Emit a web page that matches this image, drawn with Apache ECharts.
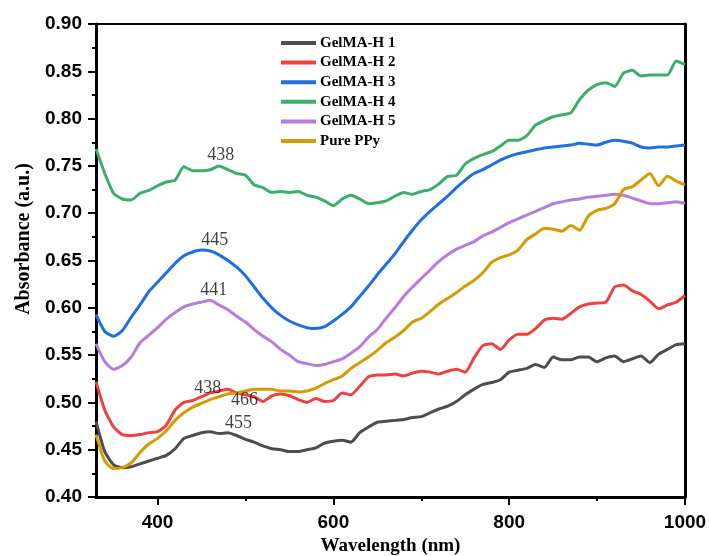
<!DOCTYPE html>
<html>
<head>
<meta charset="utf-8">
<script src="https://cdn.jsdelivr.net/npm/echarts@6/dist/echarts.min.js"></script>
<style>
  html, body { margin: 0; padding: 0; background: #fff; }
  #chart { width: 709px; height: 556px; }
</style>
</head>
<body>
<div id="chart"></div>
<script>
// wavelength grid (nm)
const wavelength = [330, 340, 350, 360, 370, 380, 390, 400, 410, 420, 430, 440, 450, 460, 470, 480, 490, 500,
  510, 520, 530, 540, 550, 560, 570, 580, 590, 600, 610, 620, 630, 640, 650, 660, 670, 680, 690, 700,
  710, 720, 730, 740, 750, 760, 770, 780, 790, 800, 810, 820, 830, 840, 850, 860, 870, 880, 890, 900,
  910, 920, 930, 940, 950, 960, 970, 980, 990, 1000]

const seriesNames = ['GelMA-H 1', 'GelMA-H 2', 'GelMA-H 3', 'GelMA-H 4', 'GelMA-H 5', 'Pure PPy']
const seriesColors = ['#4d4d4d', '#f04141', '#1f6fe0', '#3aae6a', '#b67de0', '#d39c00']

const gelma1 = [0.480, 0.448, 0.434, 0.431, 0.432, 0.435, 0.438, 0.441, 0.444, 0.451, 0.462, 0.465, 0.468, 0.469,
  0.467, 0.468, 0.465, 0.461, 0.458, 0.454, 0.451, 0.450, 0.448, 0.448, 0.450, 0.452, 0.457, 0.459, 0.460,
  0.458, 0.468, 0.474, 0.479, 0.480, 0.481, 0.482, 0.484, 0.485, 0.489, 0.493, 0.496, 0.501, 0.508, 0.514,
  0.519, 0.521, 0.524, 0.532, 0.534, 0.536, 0.540, 0.537, 0.548, 0.545, 0.545, 0.548, 0.548, 0.543, 0.547,
  0.549, 0.543, 0.546, 0.549, 0.542, 0.551, 0.556, 0.561, 0.562]

const gelma2 = [0.522, 0.492, 0.474, 0.466, 0.465, 0.466, 0.468, 0.469, 0.476, 0.492, 0.500, 0.502, 0.506, 0.510,
  0.512, 0.514, 0.510, 0.508, 0.506, 0.501, 0.507, 0.509, 0.507, 0.503, 0.500, 0.504, 0.501, 0.502, 0.510,
  0.508, 0.517, 0.527, 0.529, 0.529, 0.530, 0.528, 0.531, 0.533, 0.532, 0.530, 0.533, 0.535, 0.532, 0.547,
  0.560, 0.562, 0.556, 0.566, 0.572, 0.572, 0.578, 0.587, 0.589, 0.588, 0.594, 0.601, 0.604, 0.605, 0.606,
  0.622, 0.624, 0.618, 0.614, 0.607, 0.599, 0.603, 0.606, 0.613]

const gelma3 = [0.593, 0.575, 0.570, 0.576, 0.590, 0.603, 0.617, 0.627, 0.637, 0.647, 0.655, 0.659, 0.661, 0.660,
  0.656, 0.650, 0.643, 0.634, 0.622, 0.610, 0.600, 0.592, 0.586, 0.582, 0.579, 0.578, 0.580, 0.586, 0.593,
  0.601, 0.612, 0.623, 0.635, 0.646, 0.657, 0.670, 0.682, 0.693, 0.702, 0.710, 0.718, 0.727, 0.735, 0.742,
  0.746, 0.751, 0.756, 0.760, 0.763, 0.765, 0.767, 0.769, 0.770, 0.771, 0.772, 0.774, 0.773, 0.772, 0.775,
  0.777, 0.776, 0.774, 0.770, 0.769, 0.770, 0.770, 0.771, 0.772]

const gelma4 = [0.768, 0.742, 0.721, 0.715, 0.714, 0.721, 0.724, 0.729, 0.733, 0.735, 0.749, 0.745, 0.745, 0.746,
  0.750, 0.746, 0.742, 0.740, 0.730, 0.727, 0.722, 0.723, 0.722, 0.723, 0.719, 0.717, 0.713, 0.708, 0.715,
  0.719, 0.715, 0.710, 0.711, 0.713, 0.718, 0.722, 0.720, 0.723, 0.725, 0.731, 0.739, 0.740, 0.752, 0.758,
  0.762, 0.765, 0.771, 0.777, 0.777, 0.782, 0.793, 0.798, 0.802, 0.804, 0.806, 0.820, 0.830, 0.836, 0.838,
  0.834, 0.848, 0.851, 0.845, 0.846, 0.846, 0.846, 0.861, 0.857]

const gelma5 = [0.562, 0.543, 0.535, 0.539, 0.548, 0.563, 0.571, 0.579, 0.588, 0.595, 0.601, 0.604, 0.606, 0.608,
  0.603, 0.598, 0.591, 0.585, 0.577, 0.570, 0.564, 0.556, 0.550, 0.543, 0.541, 0.539, 0.540, 0.543, 0.546,
  0.552, 0.559, 0.569, 0.577, 0.589, 0.600, 0.612, 0.622, 0.631, 0.640, 0.649, 0.656, 0.662, 0.666, 0.670,
  0.676, 0.680, 0.685, 0.690, 0.694, 0.698, 0.702, 0.706, 0.710, 0.712, 0.714, 0.715, 0.717, 0.718, 0.719,
  0.720, 0.719, 0.716, 0.713, 0.710, 0.710, 0.711, 0.712, 0.710]

const purePPy = [0.466, 0.438, 0.430, 0.431, 0.436, 0.447, 0.456, 0.462, 0.470, 0.481, 0.489, 0.495, 0.499, 0.503,
  0.506, 0.509, 0.510, 0.512, 0.514, 0.514, 0.514, 0.512, 0.512, 0.511, 0.512, 0.515, 0.520, 0.524, 0.528,
  0.536, 0.542, 0.548, 0.555, 0.563, 0.569, 0.576, 0.585, 0.589, 0.596, 0.604, 0.610, 0.616, 0.623, 0.629,
  0.637, 0.648, 0.653, 0.656, 0.661, 0.672, 0.678, 0.684, 0.683, 0.681, 0.687, 0.682, 0.697, 0.703, 0.705,
  0.710, 0.725, 0.728, 0.735, 0.742, 0.729, 0.739, 0.734, 0.730]

const seriesValues = [gelma1, gelma2, gelma3, gelma4, gelma5, purePPy]

// peak annotations: text and [wavelength, absorbance] anchor
const peakTexts = ['438', '445', '441', '438', '466', '455']
const peakWavelength = [472, 465, 464, 457, 499, 492]
const peakAbsorbance = [0.7615, 0.6717, 0.6183, 0.5152, 0.502, 0.4777]

const xMajorTicks = [400, 600, 800, 1000]
const xMinorTicks = [500, 700, 900]

const chart = echarts.init(document.getElementById('chart'), null, { renderer: 'canvas' })

const tickFont = {
  fontFamily: 'Liberation Sans',
  fontWeight: 'bold',
  fontSize: 19,
  color: '#000'
}

const lineSeries = seriesNames.map((name, i) => ({
  name: name,
  type: 'line',
  xAxisIndex: 0,
  yAxisIndex: 0,
  showSymbol: false,
  smooth: 0.2,
  lineStyle: { width: 3, color: seriesColors[i] },
  itemStyle: { color: seriesColors[i] },
  data: wavelength.map((w, j) => [w, seriesValues[i][j]]),
  z: 3
}))

const option = {
  backgroundColor: '#fff',
  animation: false,
  grid: { left: 96, right: 24, top: 24, bottom: 59, containLabel: false, outerBoundsMode: 'none' },
  legend: {
    data: seriesNames,
    orient: 'vertical',
    left: 281,
    top: 35,
    padding: 0,
    icon: 'rect',
    itemWidth: 35,
    itemHeight: 4,
    itemGap: 3.6,
    textStyle: {
      fontFamily: 'Liberation Serif',
      fontWeight: 'bold',
      fontSize: 15,
      lineHeight: 16,
      color: '#000',
      padding: [0, 0, 0, -1]
    }
  },
  xAxis: [
    {
      type: 'value',
      min: 330,
      max: 1000,
      position: 'bottom',
      name: 'Wavelength (nm)',
      nameLocation: 'middle',
      nameGap: 40,
      nameTextStyle: {
        fontFamily: 'Liberation Serif',
        fontWeight: 'bold',
        fontSize: 19,
        color: '#000'
      },
      splitLine: { show: false },
      axisLine: { lineStyle: { color: '#000', width: 3 } },
      axisTick: { customValues: xMajorTicks, length: 8, lineStyle: { color: '#000', width: 2 } },
      axisLabel: Object.assign({ customValues: xMajorTicks, margin: 16, formatter: (v) => String(v) }, tickFont)
    },
    {
      // minor ticks
      type: 'value',
      min: 330,
      max: 1000,
      position: 'bottom',
      splitLine: { show: false },
      axisLine: { show: false },
      axisTick: { customValues: xMinorTicks, length: 4, lineStyle: { color: '#000', width: 2 } },
      axisLabel: { show: false }
    },
    {
      // top frame line
      type: 'value',
      min: 330,
      max: 1000,
      position: 'top',
      splitLine: { show: false },
      axisLine: { lineStyle: { color: '#000', width: 2 } },
      axisTick: { show: false },
      axisLabel: { show: false }
    }
  ],
  yAxis: [
    {
      type: 'value',
      min: 0.4,
      max: 0.9,
      interval: 0.05,
      splitLine: { show: false },
      axisLine: { show: true, lineStyle: { color: '#000', width: 3 } },
      axisTick: { show: true, length: 8, lineStyle: { color: '#000', width: 2 } },
      minorTick: { show: true, splitNumber: 2, length: 4, lineStyle: { color: '#000', width: 2 } },
      axisLabel: Object.assign({ margin: 14, formatter: (v) => v.toFixed(2) }, tickFont)
    },
    {
      // right frame line
      type: 'value',
      min: 0.4,
      max: 0.9,
      position: 'right',
      splitLine: { show: false },
      axisLine: { show: true, lineStyle: { color: '#000', width: 3 } },
      axisTick: { show: false },
      axisLabel: { show: false }
    }
  ],
  graphic: [
    {
      type: 'text',
      x: 24,
      y: 239,
      rotation: Math.PI / 2,
      style: {
        text: 'Absorbance (a.u.)',
        fontFamily: 'Liberation Serif',
        fontWeight: 'bold',
        fontSize: 20,
        fill: '#000',
        align: 'center',
        verticalAlign: 'middle'
      }
    }
  ],
  series: lineSeries.concat([
    {
      name: 'peaks',
      type: 'scatter',
      symbolSize: 0,
      silent: true,
      data: peakTexts.map((t, i) => ({ value: [peakWavelength[i], peakAbsorbance[i]], label: { formatter: t } })),
      label: {
        show: true,
        position: 'inside',
        fontFamily: 'Liberation Serif',
        fontSize: 18,
        color: '#111'
      },
      z: 5
    }
  ])
}

chart.setOption(option)
</script>
</body>
</html>
